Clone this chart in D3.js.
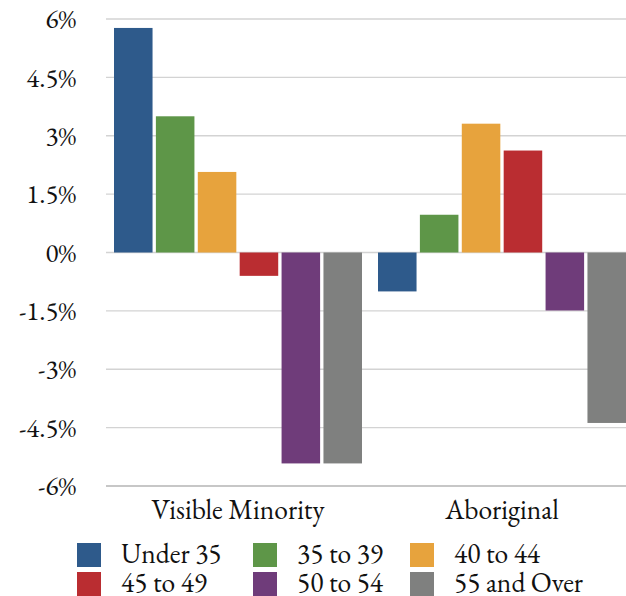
<!DOCTYPE html>
<html>
<head>
<meta charset="utf-8">
<script src="https://cdn.jsdelivr.net/npm/d3@7"></script>
<style>
  body { margin: 0; background: #fff; }
</style>
</head>
<body>
<div id="chart"></div>
<script>
const categories = ['Visible Minority', 'Aboriginal'];
const series = ['Under 35', '35 to 39', '40 to 44', '45 to 49', '50 to 54', '55 and Over'];
const colors = ['#2e5a8b', '#5e9648', '#e7a33d', '#ba2d31', '#6f3c7a', '#7f807f'];
// percent change, one array per category, in series order
const visibleMinority = [5.77, 3.5, 2.07, -0.6, -5.42, -5.42];
const aboriginal = [-1.0, 0.97, 3.31, 2.62, -1.49, -4.38];
const tickValues = [-6, -4.5, -3, -1.5, 0, 1.5, 3, 4.5, 6];

const values = [visibleMinority, aboriginal];
const width = 626;
const height = 596;
const margin = { top: 19, bottom: 110, left: 106, right: -8 };
const serif = "'EB Garamond', Garamond, 'Liberation Serif', 'Noto Serif', Tinos, 'DejaVu Serif', FreeSerif, 'Times New Roman', Times, Georgia, serif";

const svg = d3.select('#chart')
  .append('svg')
  .attr('width', width)
  .attr('height', height);

const y = d3.scaleLinear()
  .domain([-6, 6])
  .range([height - margin.bottom, margin.top]);

const x0 = d3.scaleBand()
  .domain(categories)
  .range([margin.left, width - margin.right]);

const x1 = d3.scaleBand()
  .domain(series)
  .range([8, x0.bandwidth() - 8])
  .paddingInner(0.08);

const fmt = v => String(v) + '%';

// grid lines
svg.append('g')
  .selectAll('line')
  .data(tickValues)
  .join('line')
    .attr('x1', margin.left)
    .attr('x2', width)
    .attr('y1', d => y(d))
    .attr('y2', d => y(d))
    .attr('stroke', d => d === -6 ? '#b5b5b5' : '#d3d3d3')
    .attr('stroke-width', 1.3);

// y axis labels
svg.append('g')
  .attr('transform', `translate(${margin.left - 30}, 0)`)
  .call(d3.axisLeft(y).tickValues(tickValues).tickFormat(fmt).tickSize(0).tickPadding(0))
  .attr('font-family', serif)
  .attr('font-size', 27)
  .call(g => g.select('.domain').remove())
  .call(g => g.selectAll('text').attr('fill', '#111'));

// bars
svg.append('g')
  .selectAll('g')
  .data(categories)
  .join('g')
    .attr('transform', d => `translate(${x0(d)}, 0)`)
  .selectAll('rect')
  .data((d, i) => values[i].map((v, j) => ({ key: series[j], value: v, color: colors[j] })))
  .join('rect')
    .attr('x', d => x1(d.key))
    .attr('width', x1.bandwidth())
    .attr('y', d => y(Math.max(0, d.value)))
    .attr('height', d => Math.abs(y(d.value) - y(0)))
    .attr('fill', d => d.color);

// category labels
svg.append('g')
  .attr('font-family', serif)
  .attr('font-size', 27.5)
  .selectAll('text')
  .data(categories)
  .join('text')
    .attr('x', d => x0(d) + x0.bandwidth() / 2)
    .attr('y', 519)
    .attr('text-anchor', 'middle')
    .attr('fill', '#111')
    .text(d => d);

// legend
const legendCols = [77, 253, 410];
const legend = svg.append('g')
  .attr('font-family', serif)
  .attr('font-size', 27.5)
  .selectAll('g')
  .data(series)
  .join('g')
    .attr('transform', (d, i) => `translate(${legendCols[i % 3]}, ${543 + Math.floor(i / 3) * 29})`);

legend.append('rect')
  .attr('width', 24)
  .attr('height', 24)
  .attr('fill', (d, i) => colors[i]);

legend.append('text')
  .attr('x', 44)
  .attr('y', 20)
  .attr('fill', '#111')
  .text(d => d);
</script>
</body>
</html>
